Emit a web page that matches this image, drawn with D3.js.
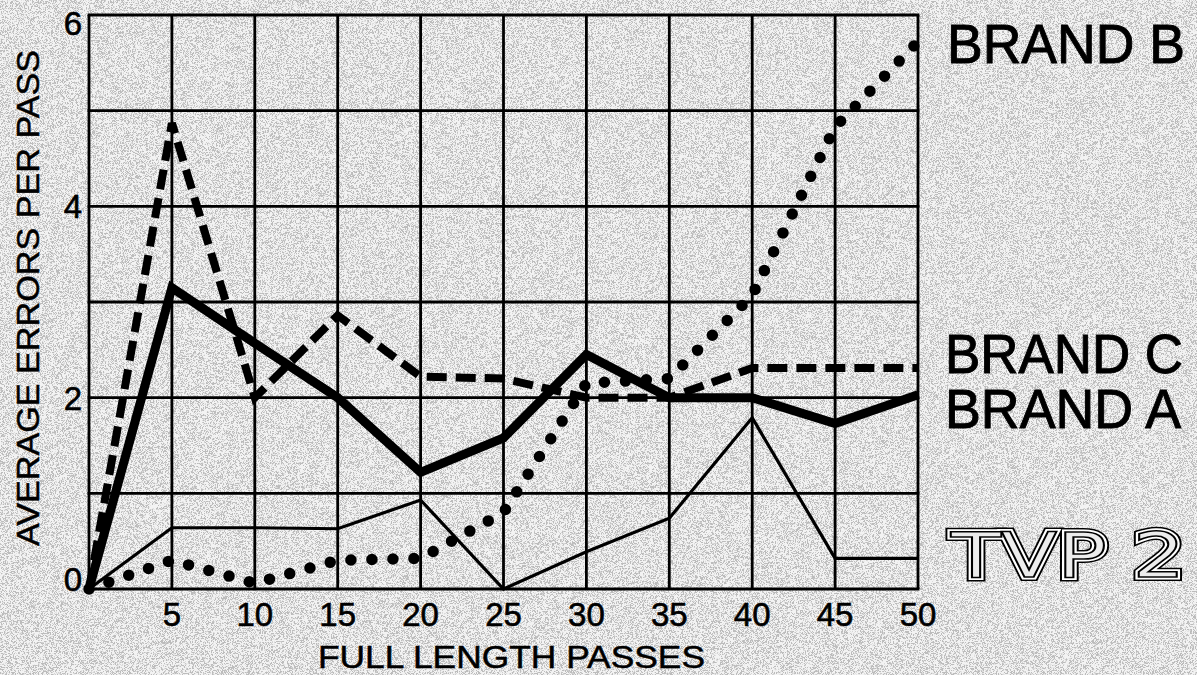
<!DOCTYPE html>
<html>
<head>
<meta charset="utf-8">
<script src="https://cdn.jsdelivr.net/npm/d3@7"></script>
<style>
  html, body { margin: 0; padding: 0; background: #e6e6e6; }
  svg { display: block; }
</style>
</head>
<body>
<div class="chart"></div>
<script>
// values
const passes = [0, 5, 10, 15, 20, 25, 30, 35, 40, 45, 50];
const brandA = [0, 3.15, 2.57, 2.0, 1.22, 1.58, 2.45, 2.0, 2.0, 1.73, 2.03];
const brandB = [0, 0.30, 0.06, 0.30, 0.32, 0.80, 2.15, 2.2, 3.07, 4.83, 5.72];
const brandC = [0, 4.87, 2.0, 2.86, 2.22, 2.2, 2.0, 2.0, 2.31, 2.31, 2.31];
const tvp2 = [0, 0.64, 0.64, 0.63, 0.93, 0.0, 0.39, 0.74, 1.79, 0.32, 0.32];
const xTicks = [5, 10, 15, 20, 25, 30, 35, 40, 45, 50];
const yTicks = [0, 2, 4, 6];

const width = 1197;
const height = 675;
const margin = { top: 15, right: 278, bottom: 86, left: 89 };

const svg = d3.select(".chart")
    .append("svg")
    .attr("width", width)
    .attr("height", height)
    .attr("viewBox", [0, 0, width, height]);

// paper speckle
const defs = svg.append("defs");
const noise = defs.append("filter")
    .attr("id", "noise")
    .attr("x", 0).attr("y", 0).attr("width", "100%").attr("height", "100%");
noise.append("feTurbulence")
    .attr("type", "fractalNoise")
    .attr("baseFrequency", 2.2)
    .attr("numOctaves", 1)
    .attr("seed", 7);
noise.append("feColorMatrix")
    .attr("type", "matrix")
    .attr("values", "0 0 0 0 0  0 0 0 0 0  0 0 0 0 0  -10 0 0 0 5.2");

svg.append("rect").attr("width", width).attr("height", height).attr("fill", "#f3f3f3");
svg.append("rect").attr("width", width).attr("height", height)
    .attr("filter", "url(#noise)").attr("opacity", 0.22);

const x = d3.scaleLinear()
    .domain([0, 50])
    .range([margin.left, width - margin.right - 1]);

const y = d3.scaleLinear()
    .domain([0, 6])
    .range([height - margin.bottom, margin.top]);

// grid
const grid = svg.append("g").attr("stroke", "#000").attr("stroke-width", 2.8);
grid.selectAll("line.v")
    .data(d3.range(0, 55, 5))
    .join("line")
    .attr("class", "v")
    .attr("x1", d => x(d)).attr("x2", d => x(d))
    .attr("y1", y(0)).attr("y2", y(6));
grid.selectAll("line.h")
    .data(d3.range(0, 7, 1))
    .join("line")
    .attr("class", "h")
    .attr("x1", x(0) - 1.4).attr("x2", x(50) + 1.4)
    .attr("y1", d => y(d)).attr("y2", d => y(d));

// axes text
const axisFont = "'Liberation Sans', 'DejaVu Sans', sans-serif";
svg.append("g")
    .selectAll("text")
    .data(xTicks)
    .join("text")
    .attr("x", d => x(d))
    .attr("y", 626)
    .attr("text-anchor", "middle")
    .attr("font-family", axisFont)
    .attr("font-size", 33)
    .attr("fill", "#000")
    .attr("stroke", "#000")
    .attr("stroke-width", 0.6)
    .text(d => d);

svg.append("g")
    .selectAll("text")
    .data(yTicks)
    .join("text")
    .attr("x", 82)
    .attr("y", d => d === 6 ? y(d) + 20 : (d === 0 ? y(d) + 2 : y(d) + 12))
    .attr("text-anchor", "end")
    .attr("font-family", axisFont)
    .attr("font-size", 33)
    .attr("fill", "#000")
    .attr("stroke", "#000")
    .attr("stroke-width", 0.6)
    .text(d => d);

svg.append("text")
    .attr("x", 318)
    .attr("y", 668)
    .attr("textLength", 387)
    .attr("lengthAdjust", "spacingAndGlyphs")
    .attr("font-family", axisFont)
    .attr("font-size", 32)
    .attr("stroke", "#000")
    .attr("stroke-width", 0.5)
    .text("FULL LENGTH PASSES");

svg.append("text")
    .attr("transform", "translate(39, 546) rotate(-90)")
    .attr("textLength", 496)
    .attr("lengthAdjust", "spacingAndGlyphs")
    .attr("font-family", axisFont)
    .attr("font-size", 31)
    .attr("stroke", "#000")
    .attr("stroke-width", 0.5)
    .text("AVERAGE ERRORS PER PASS");

// series
const line = d3.line()
    .x((d, i) => x(passes[i]))
    .y(d => y(d))
    .curve(d3.curveLinear);

const lines = svg.append("g").attr("fill", "none").attr("stroke", "#000");

lines.append("path")
    .datum(tvp2)
    .attr("d", line)
    .attr("stroke-width", 3.2)
    .attr("stroke-linejoin", "miter");

lines.append("path")
    .datum(brandB)
    .attr("d", line)
    .attr("stroke-width", 11.5)
    .attr("stroke-linecap", "round")
    .attr("stroke-dasharray", "0,21");

lines.append("path")
    .datum(brandC)
    .attr("d", line)
    .attr("stroke-width", 8)
    .attr("stroke-dasharray", "20,9");

lines.append("path")
    .datum(brandA)
    .attr("d", line)
    .attr("stroke-width", 9)
    .attr("stroke-linejoin", "miter");

// brand labels
const labelFont = "'Liberation Sans', Arial, sans-serif";
const labels = [
    { text: "BRAND B", x: 947, y: 63, len: 238 },
    { text: "BRAND C", x: 945, y: 373, len: 238 },
    { text: "BRAND A", x: 945, y: 428, len: 236 }
];
svg.append("g")
    .selectAll("text")
    .data(labels)
    .join("text")
    .attr("x", d => d.x)
    .attr("y", d => d.y)
    .attr("textLength", d => d.len)
    .attr("lengthAdjust", "spacingAndGlyphs")
    .attr("font-family", labelFont)
    .attr("font-size", 55)
    .attr("fill", "#000")
    .attr("stroke", "#000")
    .attr("stroke-width", 1)
    .text(d => d.text);

// TVP 2 outlined logo
const logo = svg.append("g")
    .attr("font-family", "'DejaVu Sans', sans-serif")
    .attr("font-size", 62);
const logoText = (g, stroke, sw, fill) => g.append("text")
    .attr("x", 951)
    .attr("y", 577)
    .attr("textLength", 234)
    .attr("lengthAdjust", "spacingAndGlyphs")
    .attr("stroke", stroke)
    .attr("stroke-width", sw)
    .attr("stroke-linejoin", "miter")
    .attr("fill", fill)
    .text("TVP 2");
logoText(logo, "#000", 8, "#000");
logoText(logo, "#fff", 5, "#fff");
logoText(logo, "#000", 1.6, "#ececec");
</script>
</body>
</html>
